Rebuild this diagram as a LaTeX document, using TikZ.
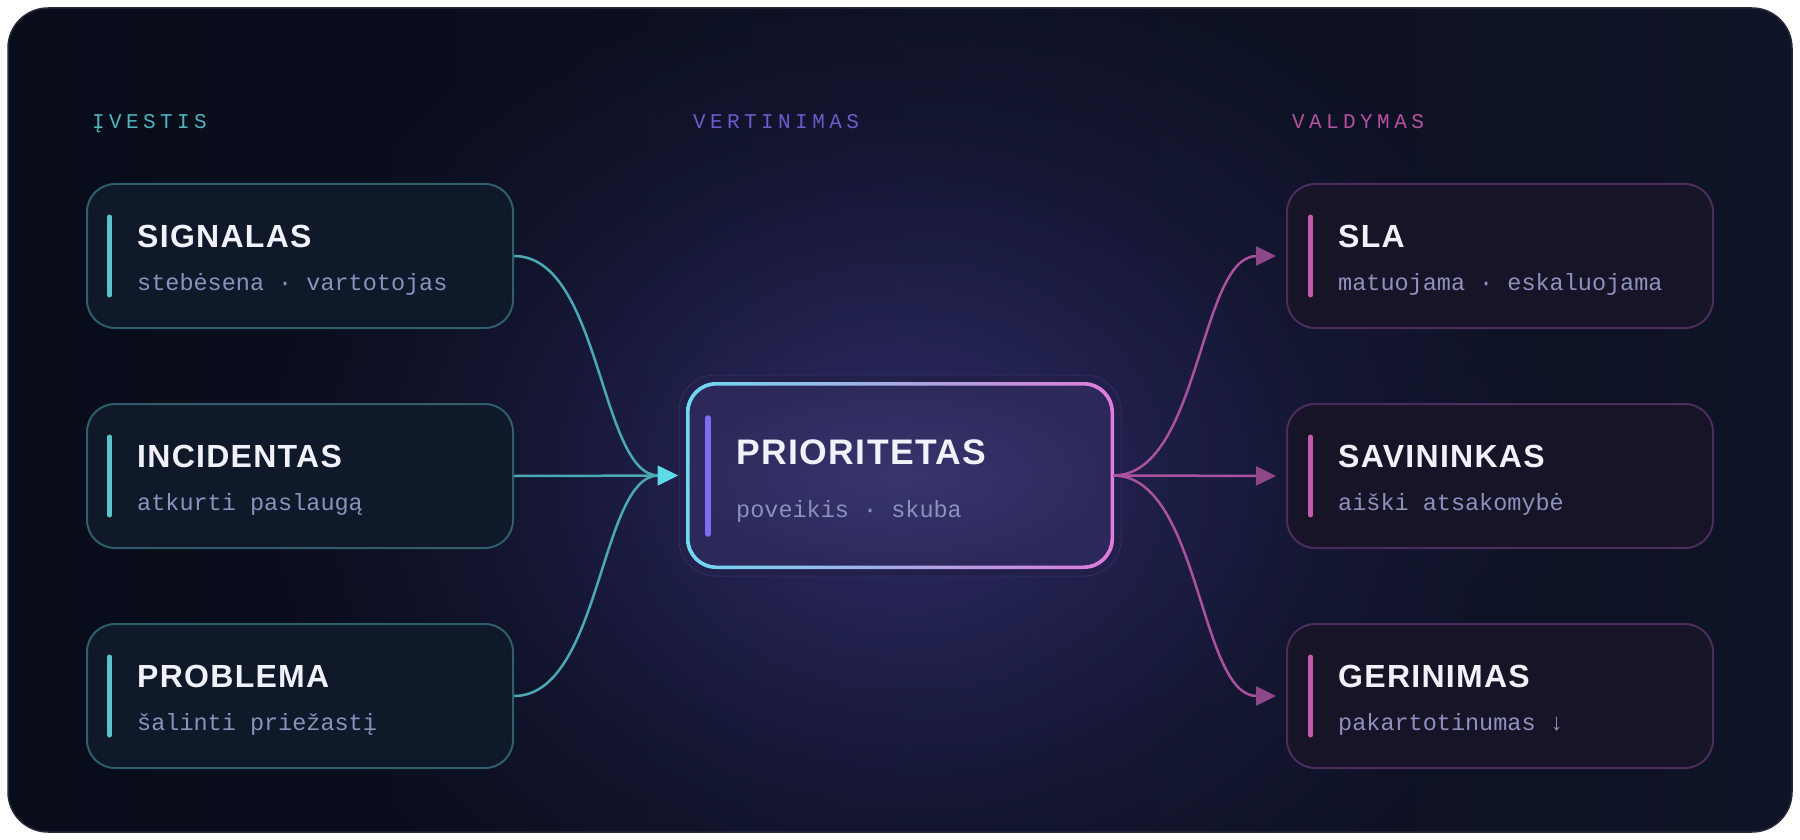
\documentclass[tikz,border=0pt]{standalone}
\usepackage{fontspec}
\setmainfont{Liberation Sans}
\setmonofont{Liberation Mono}
\usetikzlibrary{arrows.meta,fadings}

\newfontfamily\hdrfont[LetterSpace=21]{Liberation Mono}
\newfontfamily\titlefont[LetterSpace=4]{Liberation Sans}
\newfontfamily\priofont[LetterSpace=4]{Liberation Sans}

\definecolor{panelA}{HTML}{090C19}
\definecolor{panelB}{HTML}{0F1327}
\definecolor{panelEdge}{HTML}{262A38}
\definecolor{glow}{HTML}{2E2B68}
\definecolor{inFill}{HTML}{0F1929}
\definecolor{inEdge}{HTML}{2E5F6B}
\definecolor{inBar}{HTML}{5CC3CB}
\definecolor{inLine}{HTML}{4BA9B5}
\definecolor{inTip}{HTML}{5ED9E8}
\definecolor{outFill}{HTML}{181428}
\definecolor{outEdge}{HTML}{4B2D5C}
\definecolor{outBar}{HTML}{C35AAE}
\definecolor{outLine}{HTML}{A9529F}
\definecolor{outTip}{HTML}{8E4788}
\definecolor{prioIn}{HTML}{38356F}
\definecolor{prioOut}{HTML}{2C295A}
\definecolor{prioBar}{HTML}{7C6CF0}
\definecolor{haloFill}{HTML}{221F4A}
\definecolor{haloEdge}{HTML}{2E2C5C}
\definecolor{edgeL}{HTML}{6FD9F2}
\definecolor{edgeM}{HTML}{8B7CF4}
\definecolor{edgeR}{HTML}{E07BDA}
\definecolor{titleCol}{HTML}{F1F1FA}
\definecolor{subCol}{HTML}{8D91BD}
\definecolor{hdrIn}{HTML}{4FB4BE}
\definecolor{hdrEv}{HTML}{6A5DCB}
\definecolor{hdrOut}{HTML}{B5519F}
\definecolor{fadeA}{gray}{1}
\definecolor{fadeB}{gray}{0.6}
\definecolor{fadeC}{gray}{0.22}
\definecolor{fadeD}{gray}{0}

\pgfdeclareradialshading{glowrad}{\pgfpointorigin}{color(0bp)=(fadeA); color(8bp)=(fadeB); color(16bp)=(fadeC); color(25bp)=(fadeD); color(50bp)=(fadeD)}
\pgfdeclarefading{glowfade}{\pgfuseshading{glowrad}}

\begin{document}
\begin{tikzpicture}[x=1pt,y=-1pt]
\tikzstyle{hdr}=[anchor=base west, inner sep=0pt, font={\hdrfont\fontsize{21pt}{21pt}\selectfont}]
\tikzstyle{inbox}=[draw=inEdge, fill=inFill, line width=2pt, rounded corners=28pt, minimum width=426pt, minimum height=144pt, inner sep=0pt]
\tikzstyle{outbox}=[draw=outEdge, fill=outFill, line width=2pt, rounded corners=28pt, minimum width=426pt, minimum height=144pt, inner sep=0pt]
\tikzstyle{priobox}=[inner color=prioIn, outer color=prioOut, rounded corners=30pt, minimum width=426pt, minimum height=185pt, inner sep=0pt]
\tikzstyle{title}=[anchor=base west, inner sep=0pt, text=titleCol, font={\titlefont\bfseries\fontsize{32pt}{32pt}\selectfont}]
\tikzstyle{priotitle}=[anchor=base west, inner sep=0pt, text=titleCol, font={\priofont\bfseries\fontsize{35.5pt}{35.5pt}\selectfont}]
\tikzstyle{sub}=[anchor=base west, inner sep=0pt, text=subCol, font={\ttfamily\fontsize{23.5pt}{23.5pt}\selectfont}]
\tikzstyle{inbar}=[inBar, line width=5pt, line cap=round]
\tikzstyle{outbar}=[outBar, line width=5pt, line cap=round]
\tikzstyle{inlink}=[inLine, line width=2.5pt, -{Triangle[length=20pt,width=19pt,color=inTip]}, shorten >=9pt]
\tikzstyle{outlink}=[outLine, line width=2.5pt, -{Triangle[length=20pt,width=19pt,color=outTip]}, shorten >=10pt]

% panel
\useasboundingbox (0,0) rectangle (1800,840);
\fill[white] (0,0) rectangle (1800,840);
\shade[left color=panelA, right color=panelB, rounded corners=40pt] (8,8) rectangle (1792,832);
\begin{scope}
\clip[rounded corners=40pt] (8,8) rectangle (1792,832);
\fill[glow, path fading=glowfade] (900,476) ellipse [x radius=660, y radius=540];
\end{scope}
\draw[panelEdge, line width=1.5pt, rounded corners=40pt] (8,8) rectangle (1792,832);

% headers
\node (hdrIn) at (92,129) [hdr, text=hdrIn] {ĮVESTIS};
\node (hdrEv) at (693,129) [hdr, text=hdrEv] {VERTINIMAS};
\node (hdrOut) at (1292,129) [hdr, text=hdrOut] {VALDYMAS};

% inputs
\node (sig) at (300,256) [inbox] {};
\node (inc) at (300,476) [inbox] {};
\node (prob) at (300,696) [inbox] {};
\draw[inbar] (109.5,217) -- (109.5,295);
\draw[inbar] (109.5,437) -- (109.5,515);
\draw[inbar] (109.5,657) -- (109.5,735);
\node (sigT) at (137,247) [title] {SIGNALAS};
\node (sigS) at (137,290) [sub] {stebėsena · vartotojas};
\node (incT) at (137,467) [title] {INCIDENTAS};
\node (incS) at (137,510) [sub] {atkurti paslaugą};
\node (probT) at (137,687) [title] {PROBLEMA};
\node (probS) at (137,730) [sub] {šalinti priežastį};

% evaluation
\fill[haloFill, draw=haloEdge, line width=1pt, rounded corners=36pt] (679,375) rectangle (1121,576);
\node (prio) at (900,475.5) [priobox] {};
\shade[even odd rule, left color=edgeL, middle color=edgeM, right color=edgeR] [rounded corners=30pt] (686,382) rectangle (1114,569) [rounded corners=27pt] (689.5,385.5) rectangle (1110.5,565.5);
\draw[prioBar, line width=5.5pt, line cap=round] (708,418) -- (708,534);
\node (prioT) at (736,464) [priotitle] {PRIORITETAS};
\node (prioS) at (736,517) [sub] {poveikis · skuba};

% outputs
\node (sla) at (1500,256) [outbox] {};
\node (sav) at (1500,476) [outbox] {};
\node (ger) at (1500,696) [outbox] {};
\draw[outbar] (1310.5,217) -- (1310.5,295);
\draw[outbar] (1310.5,437) -- (1310.5,515);
\draw[outbar] (1310.5,657) -- (1310.5,735);
\node (slaT) at (1338,247) [title] {SLA};
\node (slaS) at (1338,290) [sub] {matuojama · eskaluojama};
\node (savT) at (1338,467) [title] {SAVININKAS};
\node (savS) at (1338,510) [sub] {aiški atsakomybė};
\node (gerT) at (1338,687) [title] {GERINIMAS};
\node (gerS) at (1338,730) [sub] {pakartotinumas ↓};

% links
\draw[inlink] (sig.east) .. controls +(87,0) and +(-87,0) .. (prio.west);
\draw[inlink] (inc.east) -- (prio.west);
\draw[inlink] (prob.east) .. controls +(87,0) and +(-87,0) .. (prio.west);
\draw[outlink] (prio.east) .. controls +(87,0) and +(-87,0) .. (sla.west);
\draw[outlink] (prio.east) -- (sav.west);
\draw[outlink] (prio.east) .. controls +(87,0) and +(-87,0) .. (ger.west);
\end{tikzpicture}
\end{document}
